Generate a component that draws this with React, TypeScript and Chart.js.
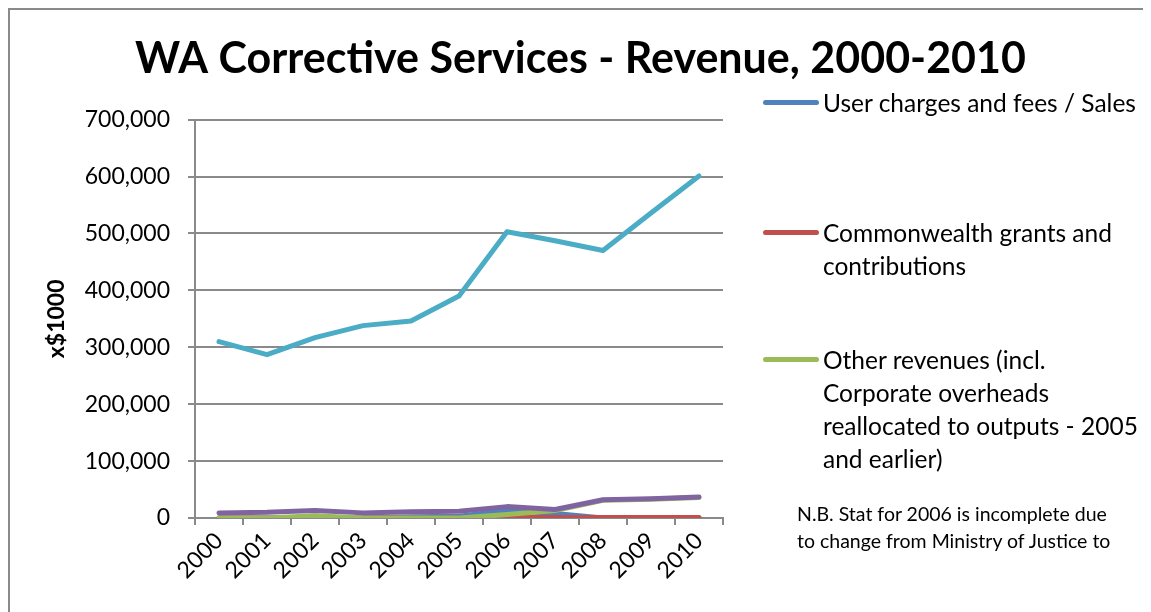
import React, { useEffect, useRef } from "react";
import { Chart, registerables } from "chart.js";

Chart.register(...registerables);

const TITLE = "WA Corrective Services - Revenue, 2000-2010";
const Y_TITLE = "x$1000";
const years = ["2000", "2001", "2002", "2003", "2004", "2005", "2006", "2007", "2008", "2009", "2010"];

const userCharges = [0, 0, 0, 0, 2000, 3000, 13000, 8000, 0, 0, 0];
const commonwealthGrants = [0, 0, 0, 0, 0, 0, 1000, 1000, 1000, 1000, 1000];
const otherRevenues = [0, 0, 4000, 0, 0, 0, 6000, 13000, 31000, 33000, 36000];
const series4 = [9000, 10000, 13000, 9000, 11000, 12000, 20000, 15000, 32000, 34000, 37000];
const series5 = [310000, 287000, 317000, 338000, 346000, 390000, 503000, 487000, 470000, 536000, 601000];

const yTicksMin = 0;
const yTicksMax = 700000;
const yTicksStep = 100000;

const legendItems = [
  { color: "#4F81BD", lines: ["User charges and fees / Sales"], y: 92 },
  { color: "#C0504D", lines: ["Commonwealth grants and", "contributions"], y: 222 },
  {
    color: "#9BBB59",
    lines: ["Other revenues (incl.", "Corporate overheads", "reallocated to outputs - 2005", "and earlier)"],
    y: 349,
  },
];
const noteLines = ["N.B. Stat for 2006 is incomplete due", "to change from Ministry of Justice to"];

const FONT = "Lato, 'Open Sans', sans-serif";
const GRID = "#8a8a8a";

export default function App() {
  const ref = useRef<HTMLCanvasElement | null>(null);

  useEffect(() => {
    if (!ref.current) return;
    const lineStyle = {
      borderWidth: 5,
      pointRadius: 0,
      tension: 0,
      borderCapStyle: "round" as const,
      borderJoinStyle: "round" as const,
      fill: false,
    };
    const chart = new Chart(ref.current, {
      type: "line",
      data: {
        labels: years,
        datasets: [
          { label: "User charges and fees / Sales", data: userCharges, borderColor: "#4F81BD", order: 5, ...lineStyle },
          { label: "Commonwealth grants and contributions", data: commonwealthGrants, borderColor: "#C0504D", order: 4, ...lineStyle },
          { label: "Other revenues (incl. Corporate overheads reallocated to outputs - 2005 and earlier)", data: otherRevenues, borderColor: "#9BBB59", order: 3, ...lineStyle },
          { label: "Series 4", data: series4, borderColor: "#8064A2", order: 2, ...lineStyle },
          { label: "Series 5", data: series5, borderColor: "#4BACC6", order: 1, ...lineStyle },
        ],
      },
      options: {
        responsive: false,
        animation: false,
        layout: { padding: 0 },
        plugins: {
          legend: { display: false },
          tooltip: { enabled: false },
          title: {
            display: true,
            text: TITLE,
            color: "#000",
            font: { family: FONT, size: 43, weight: "bold" },
            padding: { top: 23, bottom: 35 },
          },
        },
        scales: {
          x: {
            type: "category",
            offset: true,
            grid: {
              display: true,
              drawOnChartArea: false,
              drawTicks: true,
              tickLength: 7,
              offset: true,
              color: GRID,
              lineWidth: 2,
            },
            border: { display: true, color: GRID, width: 2 },
            ticks: {
              autoSkip: false,
              maxRotation: 45,
              minRotation: 45,
              color: "#000",
              font: { family: FONT, size: 23 },
              padding: 2,
            },
            afterFit: (s: any) => {
              s.height = 94;
            },
          },
          y: {
            min: yTicksMin,
            max: yTicksMax,
            ticks: {
              stepSize: yTicksStep,
              color: "#000",
              font: { family: FONT, size: 23 },
              padding: 18,
              callback: (v: any) => Number(v).toLocaleString("en-US"),
            },
            grid: { color: GRID, lineWidth: 2, tickLength: 7, drawTicks: true },
            border: { display: true, color: GRID, width: 2 },
            title: {
              display: true,
              text: Y_TITLE,
              color: "#000",
              font: { family: FONT, size: 23, weight: "bold" },
              padding: { top: 33, bottom: 0 },
            },
            afterFit: (s: any) => {
              s.width = 185;
            },
          },
          yRight: {
            position: "right",
            display: true,
            min: 0,
            max: 1,
            grid: { display: false, drawOnChartArea: false, drawTicks: false },
            border: { display: false },
            ticks: { display: false },
            afterFit: (s: any) => {
              s.width = 428;
            },
          },
        },
      },
    });
    return () => chart.destroy();
  }, []);

  return (
    <div
      style={{
        position: "relative",
        width: 1143,
        height: 604,
        boxSizing: "border-box",
        borderLeft: `2px solid ${GRID}`,
        borderTop: `2px solid ${GRID}`,
        overflow: "hidden",
        background: "#fff",
        fontFamily: FONT,
      }}
    >
      <canvas ref={ref} width={1141} height={602} style={{ position: "absolute", left: 0, top: 0 }} />
      {legendItems.map((it, i) => (
        <div key={i}>
          <div
            style={{
              position: "absolute",
              left: 753,
              top: it.y - 2.5,
              width: 56,
              height: 5,
              borderRadius: 3,
              background: it.color,
            }}
          />
          <div
            style={{
              position: "absolute",
              left: 813,
              top: it.y - 16.5,
              fontSize: 24.5,
              lineHeight: "33px",
              color: "#000",
              whiteSpace: "nowrap",
            }}
          >
            {it.lines.map((l, j) => (
              <div key={j}>{l}</div>
            ))}
          </div>
        </div>
      ))}
      <div
        style={{
          position: "absolute",
          left: 787,
          top: 503 - 13.5,
          fontSize: 19.5,
          lineHeight: "27px",
          color: "#000",
          whiteSpace: "nowrap",
        }}
      >
        {noteLines.map((l, j) => (
          <div key={j}>{l}</div>
        ))}
      </div>
    </div>
  );
}
